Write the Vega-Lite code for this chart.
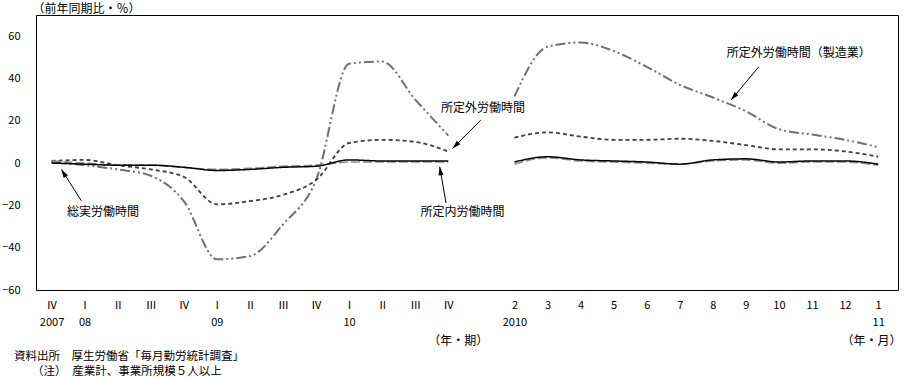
{
  "$schema": "https://vega.github.io/schema/vega-lite/v6.json",
  "width": 862,
  "height": 275,
  "autosize": {"type": "none"},
  "padding": {"left": 36, "top": 15, "right": 7, "bottom": 88},
  "background": "white",
  "config": {
    "view": {"stroke": "black", "strokeWidth": 1},
    "font": "Noto Sans CJK JP",
    "axis": {"labelFont": "Noto Sans CJK JP", "titleFont": "Noto Sans CJK JP", "labelColor": "black", "titleColor": "black"}
  },
  "title": {
    "text": ["資料出所　厚生労働省「毎月勤労統計調査」", "\u2800\u2800（注）　産業計、事業所規模５人以上"],
    "orient": "bottom",
    "anchor": "start",
    "frame": "group",
    "dx": -22,
    "offset": 4,
    "font": "Noto Sans CJK JP",
    "fontSize": 11.5,
    "fontWeight": "normal",
    "lineHeight": 15.5,
    "color": "black"
  },
  "resolve": {"axis": {"x": "independent"}},
  "datasets": {
    "series": [
      {"x": 0, "seg": "Q", "total": 0, "sched": 1, "over": 1, "mfg": 0.5},
      {"x": 1, "seg": "Q", "total": -0.5, "sched": 0, "over": 1.5, "mfg": -1},
      {"x": 2, "seg": "Q", "total": -1, "sched": -1, "over": -1, "mfg": -3},
      {"x": 3, "seg": "Q", "total": -1, "sched": -1, "over": -3, "mfg": -6},
      {"x": 4, "seg": "Q", "total": -2, "sched": -2, "over": -6.5, "mfg": -18},
      {"x": 5, "seg": "Q", "total": -3.5, "sched": -3, "over": -19.5, "mfg": -45.5},
      {"x": 6, "seg": "Q", "total": -3, "sched": -2.5, "over": -18, "mfg": -44},
      {"x": 7, "seg": "Q", "total": -2, "sched": -1.5, "over": -15, "mfg": -29},
      {"x": 8, "seg": "Q", "total": -1.5, "sched": -1, "over": -8, "mfg": -8},
      {"x": 9, "seg": "Q", "total": 1.5, "sched": 0.5, "over": 9.5, "mfg": 47},
      {"x": 10, "seg": "Q", "total": 1, "sched": 0.5, "over": 11, "mfg": 48},
      {"x": 11, "seg": "Q", "total": 1, "sched": 0.5, "over": 10, "mfg": 30},
      {"x": 12, "seg": "Q", "total": 1, "sched": 0.5, "over": 5.5, "mfg": 13},
      {"x": 14, "seg": "M", "total": 0.5, "sched": -0.5, "over": 12, "mfg": 31.5},
      {"x": 15, "seg": "M", "total": 3, "sched": 2.5, "over": 14.5, "mfg": 55},
      {"x": 16, "seg": "M", "total": 1.5, "sched": 1, "over": 12.5, "mfg": 57},
      {"x": 17, "seg": "M", "total": 1, "sched": 0.5, "over": 11, "mfg": 53},
      {"x": 18, "seg": "M", "total": 0.5, "sched": 0, "over": 11, "mfg": 45.5},
      {"x": 19, "seg": "M", "total": -0.5, "sched": -0.5, "over": 11.5, "mfg": 37},
      {"x": 20, "seg": "M", "total": 1.5, "sched": 1, "over": 10.5, "mfg": 31},
      {"x": 21, "seg": "M", "total": 2, "sched": 1.5, "over": 8.5, "mfg": 24.5},
      {"x": 22, "seg": "M", "total": 0.5, "sched": 0, "over": 6.5, "mfg": 16},
      {"x": 23, "seg": "M", "total": 1, "sched": 0.5, "over": 6.5, "mfg": 13.5},
      {"x": 24, "seg": "M", "total": 1, "sched": 0.5, "over": 5.5, "mfg": 11},
      {"x": 25, "seg": "M", "total": -0.5, "sched": -1, "over": 3, "mfg": 7.5}
    ],
    "arrows": [
      {"id": "a1", "x": 0.9, "y": -17.8, "x2": 0.3, "y2": -3.0},
      {"id": "a2", "x": 11.93, "y": -18.9, "x2": 11.74, "y2": -1.75},
      {"id": "a3", "x": 12.98, "y": 20.3, "x2": 12.13, "y2": 6.95},
      {"id": "a4", "x": 21.39, "y": 45.5, "x2": 20.55, "y2": 29.8}
    ],
    "notes": [
      {"x": 1.56, "y": -23.2, "text": "総実労働時間"},
      {"x": 12.43, "y": -23.0, "text": "所定内労働時間"},
      {"x": 13.05, "y": 26.0, "text": "所定外労働時間"},
      {"x": 22.6, "y": 51.9, "text": "所定外労働時間（製造業）"},
      {"x": 12.3, "y": -84, "text": "（年・期）"},
      {"x": 24.8, "y": -84, "text": "（年・月）"}
    ]
  },
  "layer": [
    {
      "data": {"name": "series"},
      "transform": [{"fold": ["mfg", "over", "sched", "total"], "as": ["s", "v"]}],
      "mark": {"type": "line", "interpolate": "monotone", "clip": false},
      "encoding": {
        "x": {
          "field": "x",
          "type": "quantitative",
          "scale": {"domain": [-0.47, 25.6], "nice": false, "zero": false},
          "axis": {
            "orient": "bottom",
            "title": null,
            "values": [0, 1, 2, 3, 4, 5, 6, 7, 8, 9, 10, 11, 12, 14, 15, 16, 17, 18, 19, 20, 21, 22, 23, 24, 25],
            "labelExpr": "['Ⅳ','Ⅰ','Ⅱ','Ⅲ','Ⅳ','Ⅰ','Ⅱ','Ⅲ','Ⅳ','Ⅰ','Ⅱ','Ⅲ','Ⅳ','','2','3','4','5','6','7','8','9','10','11','12','1'][datum.value]",
            "ticks": false,
            "domain": false,
            "grid": false,
            "labelPadding": 9,
            "labelFontSize": 11,
            "labelOverlap": false,
            "labelFlush": false,
            "labelBaseline": "top"
          }
        },
        "y": {
          "field": "v",
          "type": "quantitative",
          "scale": {"domain": [-60, 70], "nice": false, "zero": false},
          "axis": {
            "title": "（前年同期比・％）",
            "titleAngle": 0,
            "titleAlign": "left",
            "titleBaseline": "middle",
            "titleX": -4,
            "titleY": -7,
            "titleFontSize": 12,
            "titleFontWeight": "normal",
            "values": [-60, -40, -20, 0, 20, 40, 60],
            "ticks": false,
            "domain": false,
            "grid": false,
            "labelPadding": 16,
            "labelFontSize": 11
          }
        },
        "color": {
          "field": "s",
          "type": "nominal",
          "scale": {"domain": ["total", "sched", "over", "mfg"], "range": ["#000000", "#8c8c8c", "#404040", "#707070"]},
          "legend": null
        },
        "strokeDash": {
          "field": "s",
          "type": "nominal",
          "scale": {"domain": ["total", "sched", "over", "mfg"], "range": [[1, 0], [9, 3], [4, 3], [10, 3, 2, 3, 2, 3]]},
          "legend": null
        },
        "strokeWidth": {
          "field": "s",
          "type": "nominal",
          "scale": {"domain": ["total", "sched", "over", "mfg"], "range": [1.5, 2, 1.3, 1.3]},
          "legend": null
        },
        "detail": {"field": "seg", "type": "nominal"}
      }
    },
    {
      "data": {"name": "arrows"},
      "mark": {"type": "rule", "color": "black", "strokeWidth": 1, "clip": false},
      "encoding": {
        "x": {
          "field": "x",
          "type": "quantitative",
          "axis": {
            "orient": "bottom",
            "offset": 17,
            "title": null,
            "values": [0, 1, 5, 9, 14, 25],
            "labelExpr": "datum.value == 0 ? '2007' : datum.value == 1 ? '08' : datum.value == 5 ? '09' : datum.value == 9 ? '10' : datum.value == 14 ? '2010' : '11'",
            "ticks": false,
            "domain": false,
            "grid": false,
            "labelPadding": 9,
            "labelFontSize": 11,
            "labelOverlap": false,
            "labelFlush": false,
            "labelBaseline": "top"
          }
        },
        "y": {"field": "y", "type": "quantitative"},
        "x2": {"field": "x2"},
        "y2": {"field": "y2"}
      }
    },
    {
      "data": {"name": "arrows"},
      "transform": [{"filter": "datum.id === 'a1'"}],
      "mark": {"type": "point", "shape": "M0,0L-0.3,1L0.3,1Z", "filled": true, "color": "black", "size": 280, "angle": 329, "opacity": 1},
      "encoding": {"x": {"field": "x2", "type": "quantitative", "axis": null}, "y": {"field": "y2", "type": "quantitative"}}
    },
    {
      "data": {"name": "arrows"},
      "transform": [{"filter": "datum.id === 'a2'"}],
      "mark": {"type": "point", "shape": "M0,0L-0.3,1L0.3,1Z", "filled": true, "color": "black", "size": 280, "angle": 351, "opacity": 1},
      "encoding": {"x": {"field": "x2", "type": "quantitative", "axis": null}, "y": {"field": "y2", "type": "quantitative"}}
    },
    {
      "data": {"name": "arrows"},
      "transform": [{"filter": "datum.id === 'a3'"}],
      "mark": {"type": "point", "shape": "M0,0L-0.3,1L0.3,1Z", "filled": true, "color": "black", "size": 280, "angle": 225, "opacity": 1},
      "encoding": {"x": {"field": "x2", "type": "quantitative", "axis": null}, "y": {"field": "y2", "type": "quantitative"}}
    },
    {
      "data": {"name": "arrows"},
      "transform": [{"filter": "datum.id === 'a4'"}],
      "mark": {"type": "point", "shape": "M0,0L-0.3,1L0.3,1Z", "filled": true, "color": "black", "size": 280, "angle": 220, "opacity": 1},
      "encoding": {"x": {"field": "x2", "type": "quantitative", "axis": null}, "y": {"field": "y2", "type": "quantitative"}}
    },
    {
      "data": {"name": "notes"},
      "mark": {"type": "text", "font": "Noto Sans CJK JP", "fontSize": 12, "color": "black", "align": "center", "baseline": "middle", "clip": false},
      "encoding": {
        "x": {"field": "x", "type": "quantitative", "axis": null},
        "y": {"field": "y", "type": "quantitative"},
        "text": {"field": "text"}
      }
    }
  ]
}
